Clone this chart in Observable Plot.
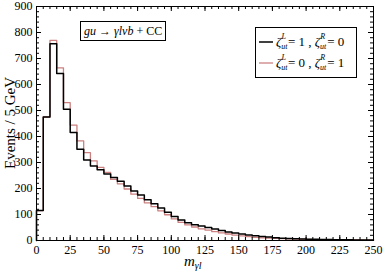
<!DOCTYPE html>
<html><head><meta charset="utf-8">
<script src="https://cdn.jsdelivr.net/npm/d3@7"></script>
<script src="https://cdn.jsdelivr.net/npm/@observablehq/plot@0.6"></script>
<style>body{margin:0;background:#fff;} #chart svg{display:block;}</style>
</head><body><div id="chart"></div>
<script>
// Bin lower edges (GeV), 5 GeV bins
const binLow = [0,5,10,15,20,25,30,35,40,45,50,55,60,65,70,75,80,85,90,95,100,105,110,115,120,125,130,135,140,145,150,155,160,165,170,175,180,185,190,195,200,205,210,215,220,225,230,235,240,245];
const binEnd = 250;
// zeta_L = 1, zeta_R = 0 (black)
const eventsL1R0 = [115,475,757,642,505,415,351,310,287,272,256,242,228,210,190,175,157,141,125,109,92,79,68,61,56,50,44,38,33,29,25,21,18,15,13,11,9,8,7,6,5,5,4,4,3,3,3,2,2,2];
// zeta_L = 0, zeta_R = 1 (red)
const eventsL0R1 = [115,475,770,664,530,444,383,338,306,281,262,235,218,198,178,162,145,130,114,99,83,70,60,52,45,40,34,29,25,21,18,15,12,10,9,8,7,6,5,5,4,3,3,3,2,2,2,2,1,1];
const xTickLabels = [0,25,50,75,100,125,150,175,200,225,250];
const yTickLabels = [0,100,200,300,400,500,600,700,800,900];
const xMinorTicks = [0,5,10,15,20,25,30,35,40,45,50,55,60,65,70,75,80,85,90,95,100,105,110,115,120,125,130,135,140,145,150,155,160,165,170,175,180,185,190,195,200,205,210,215,220,225,230,235,240,245,250];
const yMinorTicks = [0,20,40,60,80,100,120,140,160,180,200,220,240,260,280,300,320,340,360,380,400,420,440,460,480,500,520,540,560,580,600,620,640,660,680,700,720,740,760,780,800,820,840,860,880,900];

function steps(vals) {
  const rows = [{x: binLow[0], y: 0}];
  binLow.forEach((x, i) => rows.push({x, y: vals[i]}));
  rows.push({x: binEnd, y: vals[vals.length - 1]});
  return rows;
}

const W = 384, H = 273, mL = 36, mR = 11, mT = 6, mB = 33;
const pw = W - mL - mR, ph = H - mT - mB;
const serif = "'Liberation Serif', 'Times New Roman', serif";

const plot = Plot.plot({
  width: W, height: H,
  marginLeft: mL, marginRight: mR, marginTop: mT, marginBottom: mB,
  x: {domain: [0, 250]},
  y: {domain: [0, 900]},
  style: {fontFamily: serif, fontSize: "12px", background: "#fff", color: "#000"},
  marks: [
    Plot.line(steps(eventsL0R1), {x: "x", y: "y", curve: "step-after", stroke: "#cc8080", strokeWidth: 1.3}),
    Plot.line(steps(eventsL1R0), {x: "x", y: "y", curve: "step-after", stroke: "#000", strokeWidth: 1.5}),
    Plot.frame({stroke: "#000", strokeWidth: 1}),
    // inward ticks: bottom/top
    Plot.tickX(xTickLabels, {insetTop: ph - 5, stroke: "#000"}),
    Plot.tickX(xTickLabels, {insetBottom: ph - 5, stroke: "#000"}),
    Plot.tickX(xMinorTicks, {insetTop: ph - 3, stroke: "#000"}),
    Plot.tickX(xMinorTicks, {insetBottom: ph - 3, stroke: "#000"}),
    // inward ticks: left/right
    Plot.tickY(yTickLabels, {insetRight: pw - 5, stroke: "#000"}),
    Plot.tickY(yTickLabels, {insetLeft: pw - 5, stroke: "#000"}),
    Plot.tickY(yMinorTicks, {insetRight: pw - 3, stroke: "#000"}),
    Plot.tickY(yMinorTicks, {insetLeft: pw - 3, stroke: "#000"}),
    Plot.axisX({ticks: xTickLabels, tickSize: 0, tickPadding: 5, label: null, fontSize: 12}),
    Plot.axisY({ticks: yTickLabels, tickSize: 0, tickPadding: 4, label: null, fontSize: 12})
  ]
});
document.getElementById("chart").appendChild(plot);

const svg = d3.select(plot);
const g = svg.append("g").attr("font-family", serif).attr("fill", "#000").attr("text-anchor", "start");

// Y axis label
g.append("text").attr("transform", "translate(15,123) rotate(-90)")
  .attr("text-anchor", "middle").attr("font-size", 15).text("Events / 5 GeV");

// X axis label m_{γl}
const xl = g.append("text").attr("x", 184).attr("y", 266).attr("font-size", 15);
xl.append("tspan").attr("font-style", "italic").text("m");
xl.append("tspan").attr("font-style", "italic").attr("font-size", 10).attr("dy", 3).text("\u03b3l");

// Process annotation box
g.append("rect").attr("x", 80.5).attr("y", 21.5).attr("width", 85).attr("height", 19)
  .attr("fill", "#fff").attr("stroke", "#000").attr("stroke-width", 1);
const ann = g.append("text").attr("x", 84).attr("y", 35).attr("font-size", 12);
ann.append("tspan").attr("font-style", "italic").text("gu");
ann.append("tspan").text(" \u2192 ");
ann.append("tspan").attr("font-style", "italic").text("\u03b3l\u03bdb");
ann.append("tspan").text(" + CC");

// Legend
g.append("rect").attr("x", 255.5).attr("y", 27.5).attr("width", 101).attr("height", 50)
  .attr("fill", "#fff").attr("stroke", "#000").attr("stroke-width", 1);
function legendRow(y, color, sw, l, r) {
  g.append("line").attr("x1", 259).attr("x2", 273).attr("y1", y - 4).attr("y2", y - 4)
    .attr("stroke", color).attr("stroke-width", sw);
  const t = g.append("text").attr("x", 276).attr("y", y).attr("font-size", 13);
  const zeta = (sup) => {
    t.append("tspan").attr("font-style", "italic").text("\u03b6");
    t.append("tspan").attr("font-style", "italic").attr("font-size", 8).attr("dy", 3).text("ut");
    t.append("tspan").attr("font-style", "italic").attr("font-size", 8).attr("dx", -6).attr("dy", -10).text(sup);
  };
  zeta("L");
  t.append("tspan").attr("dy", 7).attr("dx", 2).text("= " + l + " , ");
  zeta("R");
  t.append("tspan").attr("dy", 7).attr("dx", 2).text("= " + r);
}
legendRow(46, "#000", 1.5, 1, 0);
legendRow(67, "#cc8080", 1.3, 0, 1);
</script>
</body></html>
